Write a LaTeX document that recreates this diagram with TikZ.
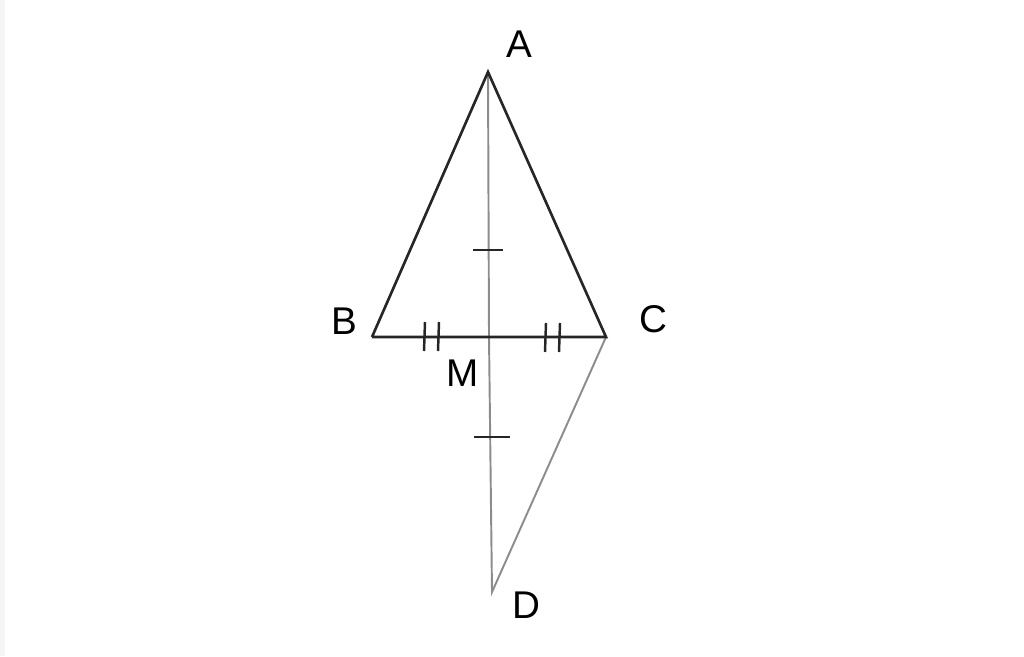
\documentclass[tikz,border=0pt]{standalone}
\usepackage{fontspec}
\setmainfont{Liberation Sans}
\begin{document}
\begin{tikzpicture}[x=0.02cm,y=-0.02cm,side/.style={draw=black!85,line width=1.5pt},
  aux/.style={draw=black!45,line width=1.1pt},tick/.style={draw=black!85,line width=1.4pt},
  lab/.style={font=\fontsize{22}{26}\selectfont,inner sep=0pt}]
  \useasboundingbox (0,0) rectangle (1024,656);
  \fill[black!4] (0,0) rectangle (5,656);
  \coordinate (A) at (488,72);
  \coordinate (B) at (372,337);
  \coordinate (C) at (606,337);
  \coordinate (M) at (489,337);
  \coordinate (D) at (492,592);

  \draw[aux] (A) -- (M) -- (D) -- (C);
  \draw[side] (B) -- (A) -- (C) -- (B);

  % equal halves of AD
  \draw[tick] (473,250) -- (503,250);
  \draw[tick] (474,437) -- (510,437);
  % equal halves of BC
  \draw[tick] (425,322) -- (424,351) (439,322) -- (438,351);
  \draw[tick] (546,323) -- (545,352) (560,323) -- (559,352);

  \node[lab] (lA) at (519,44) {A};
  \node[lab] (lB) at (344,321) {B};
  \node[lab] (lC) at (653,319) {C};
  \node[lab] (lM) at (463,373) {M};
  \node[lab] (lD) at (526,605) {D};
\end{tikzpicture}
\end{document}
